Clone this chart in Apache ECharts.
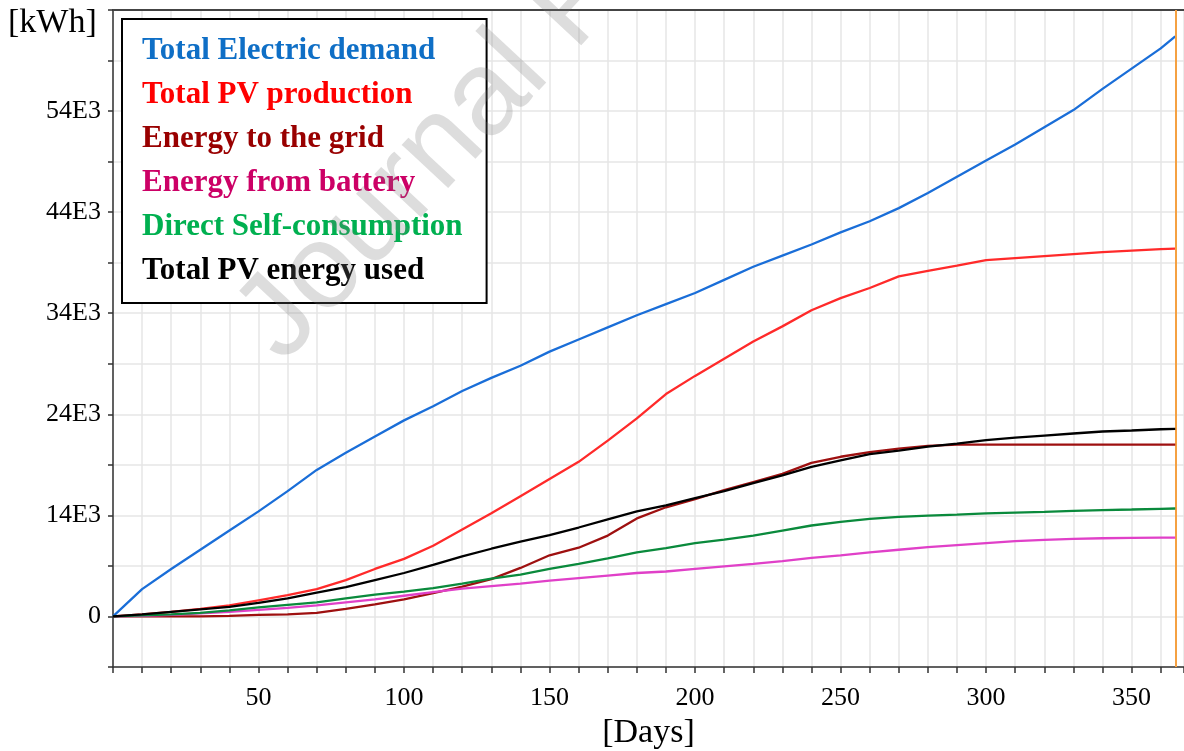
<!DOCTYPE html>
<html>
<head>
<meta charset="utf-8">
<script src="https://cdn.jsdelivr.net/npm/echarts@6/dist/echarts.min.js"></script>
<style>
html,body{margin:0;padding:0;background:#fff;}
#chart{width:1184px;height:751px;}
</style>
</head>
<body>
<div id="chart"></div>
<script>
// ---- data ----
const days = [0,10,20,30,40,50,60,70,80,90,100,110,120,130,140,150,160,170,180,190,200,210,220,230,240,250,260,270,280,290,300,310,320,330,340,350,360,365];
const seriesNames = ['Total Electric demand','Total PV production','Energy to the grid','Energy from battery','Direct Self-consumption','Total PV energy used'];
const totalDemand = [0,2700,4700,6600,8500,10400,12400,14500,16200,17800,19400,20800,22300,23600,24800,26200,27400,28600,29800,30900,32000,33300,34600,35700,36800,38000,39100,40400,41900,43500,45100,46700,48400,50100,52200,54200,56200,57400];
const pvProduction = [0,200,450,750,1100,1600,2100,2700,3600,4700,5700,7000,8600,10200,11900,13600,15300,17400,19600,22000,23800,25500,27200,28700,30300,31500,32500,33650,34200,34700,35250,35450,35650,35850,36050,36200,36350,36400];
const toGrid = [0,0,0,0,50,150,200,350,750,1200,1700,2300,2950,3700,4800,6050,6800,8000,9700,10800,11600,12500,13300,14100,15200,15800,16250,16600,16880,17000,17000,17000,17000,17000,17000,17000,17000,17000];
const fromBattery = [0,50,150,300,450,650,850,1100,1400,1700,2050,2400,2750,3000,3250,3550,3800,4050,4300,4450,4700,4950,5200,5480,5800,6050,6350,6600,6850,7050,7250,7450,7580,7680,7740,7770,7790,7800];
const directSelf = [0,100,200,350,600,900,1150,1400,1800,2150,2450,2800,3250,3750,4150,4700,5200,5750,6350,6750,7250,7600,8000,8500,9000,9350,9650,9850,9980,10080,10200,10280,10350,10440,10520,10580,10650,10680];
const pvUsed = [0,200,450,700,950,1350,1800,2350,2900,3600,4300,5100,5950,6700,7400,8050,8800,9600,10400,11000,11700,12400,13200,13950,14800,15450,16050,16400,16800,17100,17450,17700,17900,18100,18300,18400,18520,18560];
const yTickLabels = ['0','14E3','24E3','34E3','44E3','54E3'];
const xTickLabels = ['50','100','150','200','250','300','350'];
const endDay = 365;

// ---- styles ----
const lineColors = ['#1a6ed8','#ff2a2a','#9e1010','#e040c8','#0a8a3c','#000000'];
const legendColors = ['#0f6fc6','#ff0000','#990000','#cc0066','#00b050','#000000'];
const serif = '"Liberation Serif", "Times New Roman", serif';

const allValues = [totalDemand, pvProduction, toGrid, fromBattery, directSelf, pvUsed];

const chart = echarts.init(document.getElementById('chart'), null, {renderer:'canvas'});

const series = allValues.map((vals, i) => ({
  name: seriesNames[i],
  type: 'line',
  data: days.map((d, k) => [d, vals[k]]),
  showSymbol: false,
  symbol: 'none',
  lineStyle: {color: lineColors[i], width: 2.3},
  itemStyle: {color: lineColors[i]},
  animation: false,
  z: 3 + i
}));
series[5].markLine = {
  silent: true,
  symbol: ['none','none'],
  label: {show: false},
  lineStyle: {color: '#f5a142', width: 2, type: 'solid'},
  data: [{xAxis: endDay}]
};

chart.setOption({
  animation: false,
  backgroundColor: '#fff',
  grid: {left: 113, right: 0, top: 10, bottom: 84, containLabel: false, outerBoundsMode: 'none'},
  xAxis: [{
    type: 'value', min: 0, max: 368, interval: 10,
    axisLine: {onZero: false, lineStyle: {color: '#333', width: 1.5}},
    axisTick: {length: 6, lineStyle: {color: '#333', width: 1.5}},
    axisLabel: {
      formatter: v => { const s = String(v); return xTickLabels.indexOf(s) >= 0 ? s : ''; },
      fontFamily: serif, fontSize: 26, color: '#000', margin: 18
    },
    splitLine: {show: true, lineStyle: {color: '#e6e6e6', width: 1.5}},
    name: '[Days]', nameLocation: 'middle', nameGap: 47,
    nameTextStyle: {fontFamily: serif, fontSize: 34, color: '#000'}
  }, {
    type: 'value', position: 'top', min: 0, max: 368, interval: 10,
    axisLine: {show: true, onZero: false, lineStyle: {color: '#444', width: 2}},
    axisTick: {show: false}, axisLabel: {show: false}, splitLine: {show: false}
  }],
  yAxis: {
    type: 'value', min: -5000, max: 60000, interval: 5000,
    axisLine: {show: true, onZero: false, lineStyle: {color: '#333', width: 1.5}},
    axisTick: {show: true, length: 5, lineStyle: {color: '#333', width: 1.5}},
    axisLabel: {
      formatter: v => (v >= 0 && v % 10000 === 0 && yTickLabels[v / 10000] !== undefined) ? yTickLabels[v / 10000] : '',
      fontFamily: serif, fontSize: 26, color: '#000', margin: 12
    },
    splitLine: {show: true, lineStyle: {color: '#e6e6e6', width: 1.5}}
  },
  legend: {
    orient: 'vertical', left: 122, top: 19,
    icon: 'none', itemWidth: 0, itemHeight: 10, itemGap: 0,
    padding: [10, 24, 10, 15],
    borderColor: '#000', borderWidth: 2, backgroundColor: '#fff',
    selectedMode: false,
    textStyle: {fontFamily: serif, fontWeight: 'bold', fontSize: 31, lineHeight: 44},
    data: seriesNames.map((n, i) => ({name: n, textStyle: {color: legendColors[i]}}))
  },
  graphic: [{
    type: 'text', left: 8, top: 6,
    style: {text: '[kWh]', font: '34px ' + serif, fill: '#000'}
  }, {
    type: 'text', x: 303, y: 383, rotation: 47 * Math.PI / 180, z: 100, silent: true,
    style: {text: 'Journal Pre-proof', font: '120px "Liberation Sans", Arial, sans-serif', fill: 'rgba(120,120,120,0.25)', textAlign: 'left', textVerticalAlign: 'bottom'}
  }],
  series: series
});
</script>
</body>
</html>
